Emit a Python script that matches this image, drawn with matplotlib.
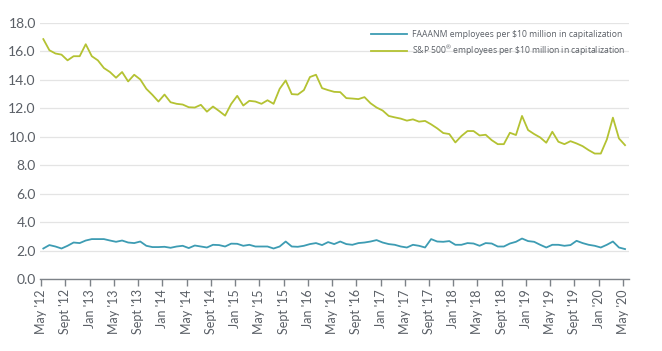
import numpy as np
import matplotlib
matplotlib.use('Agg')
import matplotlib.pyplot as plt

# Empleados por cada $10 millones de capitalización, datos mensuales May '12 - May '20
sp500 = [
    16.85, 16.07, 15.84, 15.76, 15.36, 15.65, 15.65, 16.49, 15.65, 15.36,
    14.82, 14.54, 14.14, 14.54, 13.88, 14.35, 14.02, 13.36, 12.94, 12.47,
    12.96, 12.42, 12.31, 12.26, 12.07, 12.05, 12.24, 11.76, 12.12, 11.81,
    11.48, 12.30, 12.87, 12.19, 12.52, 12.47, 12.31, 12.56, 12.31, 13.36,
    13.95, 12.99, 12.96, 13.27, 14.19, 14.35, 13.41, 13.27, 13.15, 13.13,
    12.71, 12.68, 12.64, 12.78, 12.35, 12.05, 11.84, 11.46, 11.36, 11.27,
    11.13, 11.22, 11.06, 11.11, 10.87, 10.59, 10.26, 10.19, 9.60, 10.05,
    10.40, 10.40, 10.09, 10.14, 9.76, 9.48, 9.48, 10.28, 10.12, 11.46,
    10.47, 10.19, 9.95, 9.58, 10.35, 9.65, 9.48, 9.69, 9.53, 9.34,
    9.06, 8.82, 8.82, 9.81, 11.34, 9.88, 9.41,
]

faaanm = [
    2.16, 2.40, 2.30, 2.16, 2.35, 2.58, 2.54, 2.72, 2.82, 2.82,
    2.82, 2.72, 2.63, 2.72, 2.58, 2.54, 2.65, 2.35, 2.26, 2.26,
    2.28, 2.21, 2.30, 2.35, 2.19, 2.37, 2.30, 2.23, 2.42, 2.40,
    2.30, 2.50, 2.49, 2.35, 2.42, 2.30, 2.30, 2.30, 2.16, 2.30,
    2.65, 2.30, 2.28, 2.35, 2.47, 2.54, 2.40, 2.61, 2.47, 2.65,
    2.47, 2.42, 2.54, 2.58, 2.65, 2.75, 2.58, 2.47, 2.42, 2.30,
    2.23, 2.42, 2.35, 2.23, 2.82, 2.65, 2.63, 2.68, 2.42, 2.42,
    2.54, 2.51, 2.35, 2.54, 2.51, 2.30, 2.30, 2.51, 2.63, 2.86,
    2.68, 2.63, 2.42, 2.23, 2.42, 2.42, 2.35, 2.40, 2.70, 2.54,
    2.42, 2.35, 2.23, 2.42, 2.65, 2.23, 2.12,
]

tick_labels = [
    "May '12", "Sept '12", "Jan '13", "May '13", "Sept '13", "Jan '14",
    "May '14", "Sept '14", "Jan '15", "May '15", "Sept '15", "Jan '16",
    "May '16", "Sept '16", "Jan '17", "May '17", "Sept '17", "Jan '18",
    "May '18", "Sept '18", "Jan '19", "May '19", "Sept '19", "Jan '20",
    "May '20",
]

series_labels = [
    'FAAANM employees per \\$10 million in capitalization',
    'S&P 500$^{\u00ae}$ employees per \\$10 million in capitalization',
]

GREEN = '#b4c232'
BLUE = '#3d9cb3'
TEXT = '#5a5f66'


def employees_chart(path='out.png'):
    """Dibuja las dos series mensuales y guarda la figura."""
    fig = plt.figure(figsize=(6.62, 3.51), dpi=100)
    ax = fig.add_axes([0.0604, 0.2043, 0.8897, 0.7310])

    months = np.arange(len(sp500))
    ax.plot(months, faaanm, color=BLUE, lw=1.3, label=series_labels[0])
    ax.plot(months, sp500, color=GREEN, lw=1.3, label=series_labels[1])

    # Ejes y cuadrícula
    ax.set_ylim(0, 18)
    ax.set_xlim(-0.55, 96.65)
    ax.set_yticks(np.arange(0, 18.1, 2.0))
    ax.set_yticklabels([f'{v:.1f}' for v in np.arange(0, 18.1, 2.0)])
    ax.grid(axis='y', color='#e4e4e4', lw=0.9)
    ax.set_axisbelow(True)

    ticks = np.arange(0, len(sp500), 4) - 0.35
    ax.set_xticks(ticks)
    ax.set_xticklabels(tick_labels, rotation=90)

    for side in ['top', 'right', 'left']:
        ax.spines[side].set_visible(False)
    ax.spines['bottom'].set_color('#7d8288')
    ax.spines['bottom'].set_linewidth(1.0)

    ax.tick_params(axis='y', length=0, pad=3, labelsize=10, labelcolor=TEXT)
    ax.tick_params(axis='x', length=5, width=1.0, color='#7d8288', pad=2,
                   labelsize=9, labelcolor=TEXT)
    for lbl in ax.get_xticklabels() + ax.get_yticklabels():
        lbl.set_fontfamily('Lato')

    plt.rcParams['mathtext.fontset'] = 'custom'
    plt.rcParams['mathtext.rm'] = 'Open Sans'
    plt.rcParams['mathtext.it'] = 'Open Sans'
    leg = ax.legend(loc='upper right', bbox_to_anchor=(1.0, 0.985), frameon=False,
                    handlelength=4.2, handletextpad=0.6,
                    labelspacing=0.55, borderaxespad=0.0,
                    prop={'family': 'Open Sans', 'size': 6.2})
    for t in leg.get_texts():
        t.set_color(TEXT)

    fig.savefig(path, dpi=100)


employees_chart()
